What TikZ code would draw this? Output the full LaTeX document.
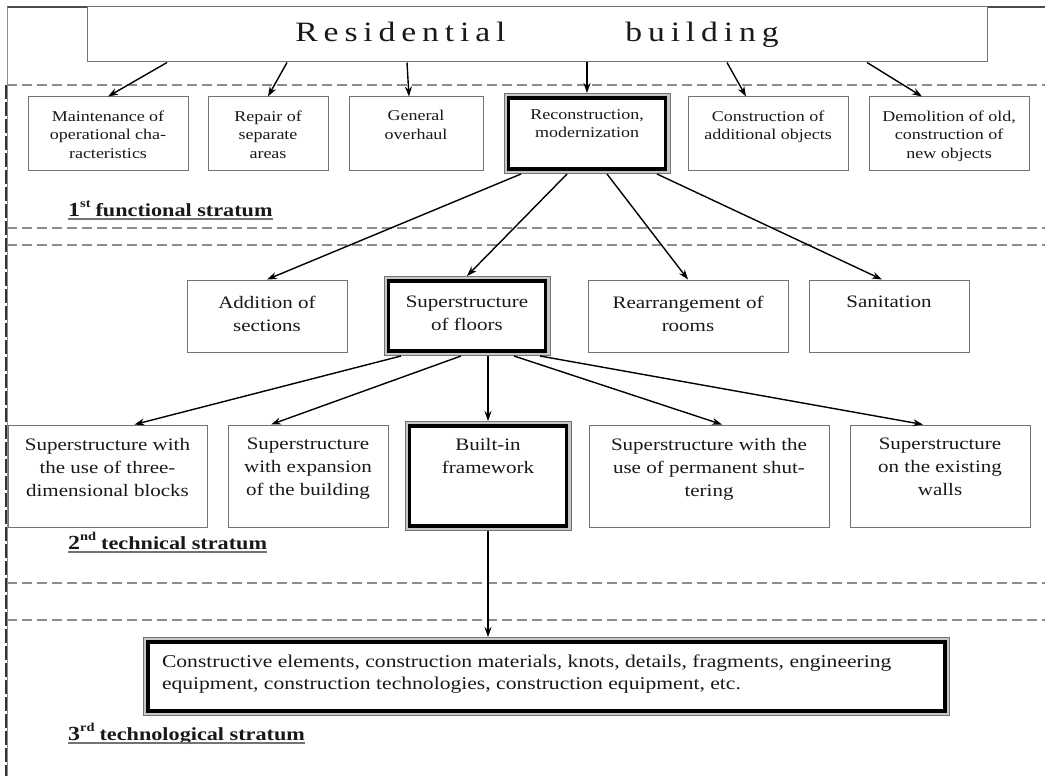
\documentclass[tikz,border=0pt]{standalone}
\usepackage{fontspec}
\setmainfont{Liberation Serif}[FakeStretch=1.2]
\usetikzlibrary{arrows.meta,positioning}

% text set at the top of a box of fixed size: width, height, top gap, text
\newcommand{\cellbox}[4]{\parbox[c][#2][t]{#1}{\vspace*{#3}\centering #4\par}}
% underlined stratum title: number, suffix, name
\newsavebox{\stratumbox}
\newcommand{\stratum}[3]{%
  \sbox{\stratumbox}{\bfseries\fontsize{20}{20}\selectfont #1\raisebox{8.5pt}{\fontsize{12}{12}\selectfont #2}\hspace{5pt}\fontsize{18.5}{18.5}\selectfont #3}%
  \usebox{\stratumbox}\llap{\color{black!55}\rule[-4pt]{\wd\stratumbox}{1.8pt}}}

\begin{document}
\begin{tikzpicture}[x=1pt,y=-1pt,>={Stealth[length=10pt,width=7pt]},node distance=20pt,
    cell/.style={draw=black!55,line width=1pt,fill=white,inner sep=0pt,text=black!90},
    key box/.style={draw=black,line width=3.5pt,fill=white,inner sep=0pt,outer sep=5pt,text=black!90,
      preaction={draw=black!55,line width=10pt},preaction={draw=black!22,line width=8pt}},
    fine text/.style={font=\fontsize{15}{18.5}\selectfont},
    body text/.style={font=\fontsize{17.5}{23}\selectfont},
    link/.style={->,line width=1.4pt},
    level/.style={draw=black!45,line width=1.8pt,dash pattern=on 10pt off 5pt},
    stratum/.style={anchor=base west,inner sep=0pt,text=black!90}]

  \useasboundingbox (0,0) rectangle (1045,776);

  % frame and stratum borders
  \draw[black!70,line width=1.5pt] (7,7) -- (1045,7);
  \draw[black!45,line width=1pt] (7,7) -- (7,776);
  \draw[black!80,line width=1.6pt,dash pattern=on 14pt off 3pt] (6,85) -- (6,776);
  \foreach \y in {85,228,245,583,620}
    \draw[level] (7,\y) -- (1045,\y);

  \node[cell,minimum width=900pt,minimum height=55pt,font=\fontsize{28}{30}\selectfont] (top) at (537,34.5)
    {\addfontfeature{LetterSpace=21}Residential\hspace*{120pt}building};

  % 1st stratum
  \node[cell,fine text] (maint) at (108,133.5) {\cellbox{160pt}{73pt}{13.5pt}{Maintenance of\\ operational cha-\\ racteristics}};
  \node[cell,fine text] (repair) [right=19pt of maint] {\cellbox{120pt}{73pt}{13.5pt}{Repair of\\ separate\\ areas}};
  \node[cell,fine text] (overhaul) [right=of repair] {\cellbox{134pt}{73pt}{13.5pt}{General\\ overhaul}};
  \node[key box,fine text] (recon) [right=of overhaul] {\cellbox{157pt}{71pt}{11.5pt}{Reconstruction,\\ modernization}};
  \node[cell,fine text] (extra) [right=17pt of recon] {\cellbox{160pt}{73pt}{13.5pt}{Construction of\\ additional objects}};
  \node[cell,fine text] (demol) [right=of extra] {\cellbox{160pt}{73pt}{13.5pt}{Demolition of old,\\ construction of\\ new objects}};

  \node[stratum] (first) at (68,216) {\stratum{1}{st}{functional stratum}};

  % 2nd stratum, upper row
  \node[cell,body text] (addsec) at (267,316) {\cellbox{160pt}{72pt}{16pt}{Addition of\\ sections}};
  \node[key box,body text] (floors) [right=36pt of addsec] {\cellbox{157pt}{70pt}{15pt}{Superstructure\\ of floors}};
  \node[cell,body text] (rooms) [right=37pt of floors] {\cellbox{200pt}{72pt}{16pt}{Rearrangement of\\ rooms}};
  \node[cell,body text] (sanit) [right=of rooms] {\cellbox{160pt}{72pt}{16pt}{Sanitation}};

  % 2nd stratum, lower row
  \node[cell,body text] (blocks) at (107.5,476) {\cellbox{199pt}{102pt}{13pt}{Superstructure with\\ the use of three-\\ dimensional blocks}};
  \node[cell,body text] (expand) [right=of blocks] {\cellbox{160pt}{102pt}{13pt}{Superstructure\\ with expansion\\ of the building}};
  \node[key box,body text] (builtin) [right=16pt of expand] {\cellbox{157pt}{100pt}{12pt}{Built-in\\ framework}};
  \node[cell,body text] (shutter) [right=17pt of builtin] {\cellbox{240pt}{102pt}{13pt}{Superstructure with the\\ use of permanent shut-\\ tering}};
  \node[cell,body text] (walls) [right=of shutter] {\cellbox{180pt}{102pt}{13pt}{Superstructure\\ on the existing\\ walls}};

  \node[stratum] (second) at (68,549) {\stratum{2}{nd}{technical stratum}};

  % 3rd stratum
  \node[key box,font=\fontsize{18}{22}\selectfont] (elements) at (546.5,676.5)
    {\parbox[c][69pt][t]{797pt}{\vspace*{13pt}\raggedright\leftskip=14pt
      Constructive elements, construction materials, knots, details, fragments, engineering\\
      equipment, construction technologies, construction equipment, etc.\par}};

  \node[stratum] (third) at (68,740) {\stratum{3}{rd}{technological stratum}};

  % links
  \draw[link] ([xshift=-370pt]top.south) -- (maint.north);
  \draw[link] ([xshift=-250pt]top.south) -- (repair.north);
  \draw[link] ([xshift=-130pt]top.south) -- ([xshift=-7pt]overhaul.north);
  \draw[link] ([xshift=50pt]top.south) -- (recon.north);
  \draw[link] ([xshift=190pt]top.south) -- ([xshift=-22pt]extra.north);
  \draw[link] ([xshift=330pt]top.south) -- ([xshift=-27pt]demol.north);

  \draw[link] ([xshift=-66pt]recon.south) -- (addsec.north);
  \draw[link] ([xshift=-20pt]recon.south) -- (floors.north);
  \draw[link] ([xshift=20pt]recon.south) -- (rooms.north);
  \draw[link] ([xshift=70pt]recon.south) -- ([xshift=-7pt]sanit.north);

  \draw[link] ([xshift=-66pt]floors.south) -- ([xshift=27pt]blocks.north);
  \draw[link] ([xshift=-6pt]floors.south) -- ([xshift=-37pt]expand.north);
  \draw[link] (floors.south -| builtin) -- (builtin.north);
  \draw[link] ([xshift=47pt]floors.south) -- ([xshift=13pt]shutter.north);
  \draw[link] ([xshift=73pt]floors.south) -- ([xshift=-17pt]walls.north);

  \draw[link] (builtin.south) -- (builtin.south |- elements.north);
\end{tikzpicture}
\end{document}
